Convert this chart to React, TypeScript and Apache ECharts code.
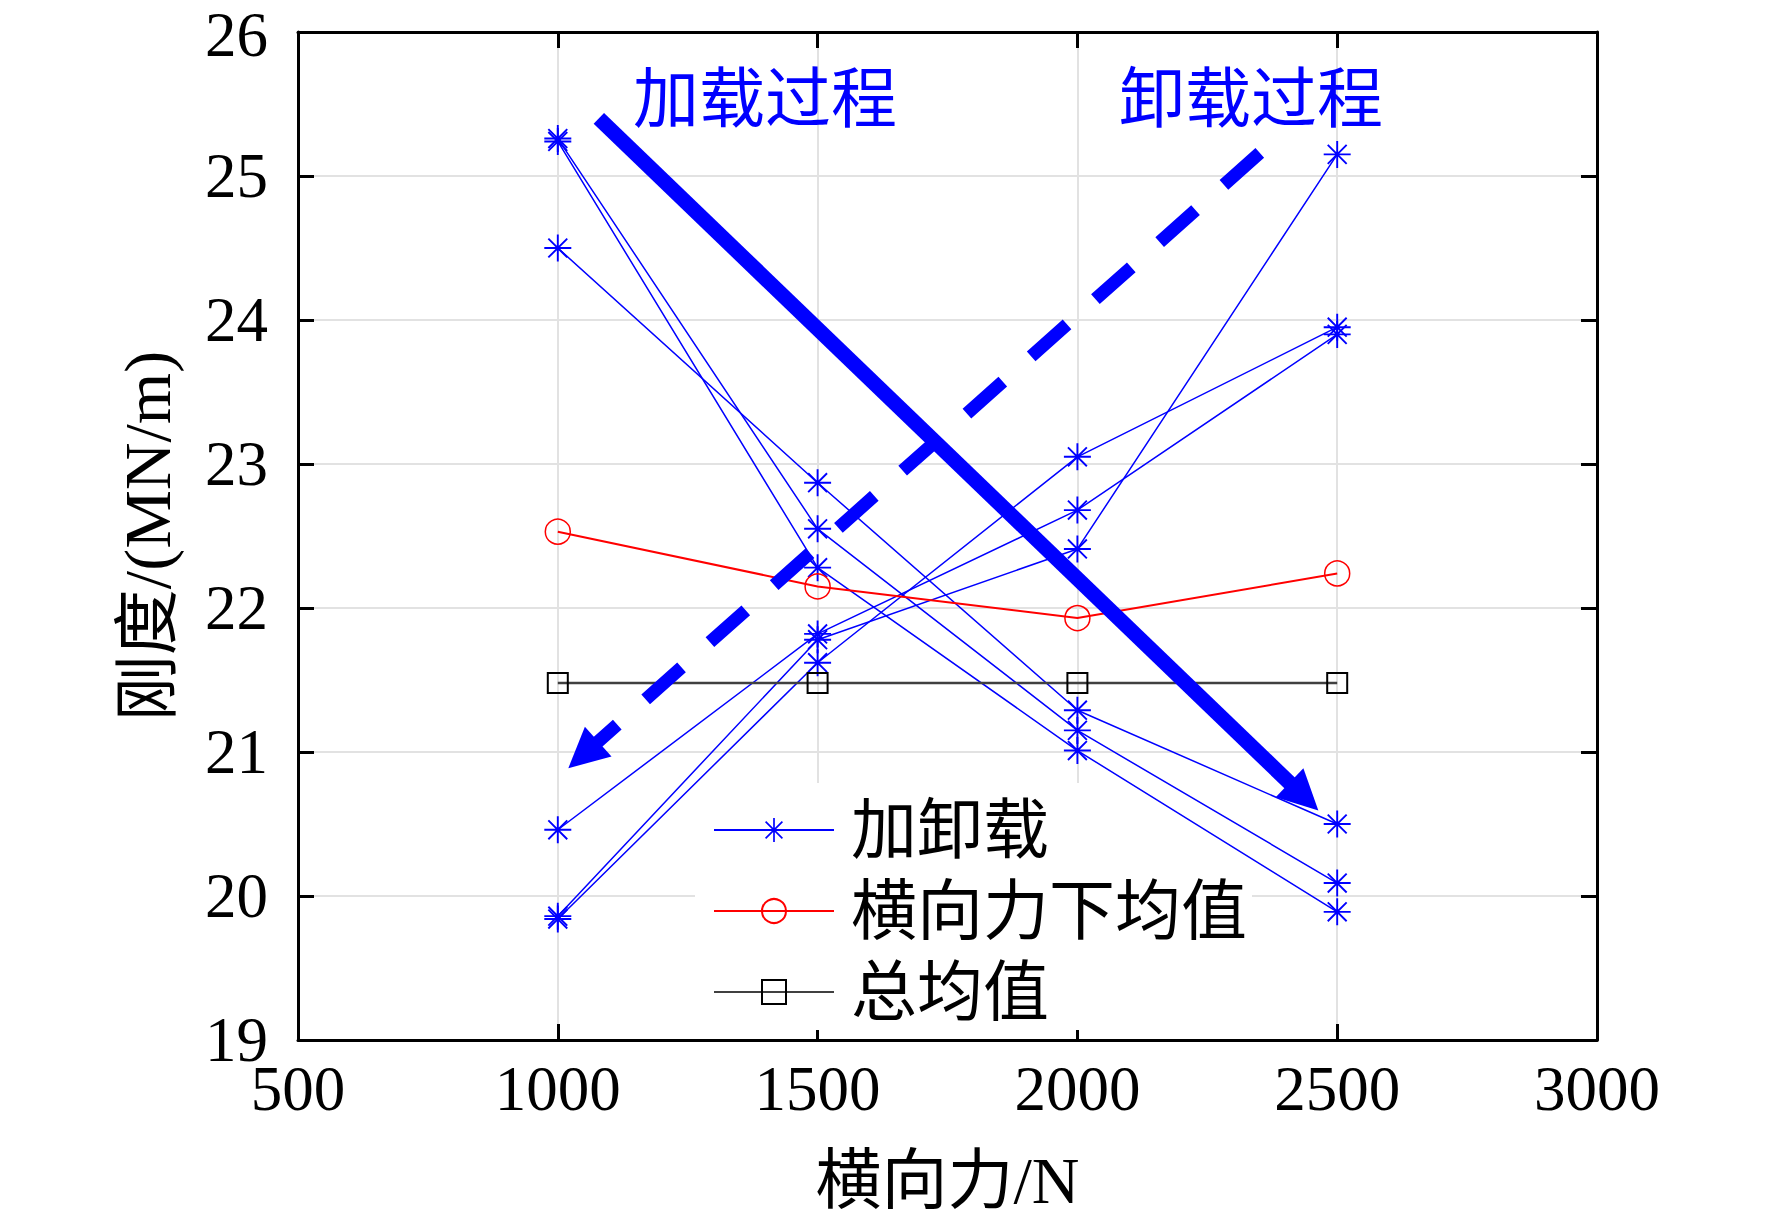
import React, { useEffect, useRef } from "react";
import * as echarts from "echarts";

// ---- data ----
const forceLevels = [1000, 1500, 2000, 2500];
const loading1 = [25.26, 22.55, 21.15, 20.09];
const loading2 = [25.24, 22.28, 21.01, 19.89];
const loading3 = [24.5, 22.87, 21.29, 20.5];
const unloading1 = [19.84, 21.62, 23.05, 23.95];
const unloading2 = [20.46, 21.82, 22.68, 23.9];
const unloading3 = [19.86, 21.78, 22.41, 25.15];
const meanByForce = [22.53, 22.15, 21.93, 22.24];
const overallMean = [21.48, 21.48, 21.48, 21.48];
const xTicks = { min: 500, max: 3000, interval: 500 };
const yTicks = { min: 19, max: 26, interval: 1 };
const legendNames = ["加卸载", "横向力下均值", "总均值"];
const loadArrow = [[1079, 25.4], [2436, 20.69]];
const unloadArrow = [[2351, 25.16], [1049, 20.98]];
const annotations = ["加载过程", "卸载过程"];

const SERIF = "'Liberation Serif', 'Times New Roman', 'Noto Sans CJK SC'";
const BLUE = "#0000ff";

const STAR =
  "path://M0 46.5L100 46.5L100 53.5L0 53.5Z" +
  "M46.5 0L53.5 0L53.5 100L46.5 100Z" +
  "M12.53 17.47L17.47 12.53L87.47 82.53L82.53 87.47Z" +
  "M82.53 12.53L87.47 17.47L17.47 87.47L12.53 82.53Z";

const toPairs = (vals: number[]) => forceLevels.map((x, i) => [x, vals[i]]);

export default function App() {
  const ref = useRef<HTMLDivElement>(null);
  useEffect(() => {
    document.body.style.margin = "0";
    if (!ref.current) return;
    const chart = echarts.init(ref.current, undefined, { renderer: "svg" });

    const axisLine = { show: true, onZero: false, lineStyle: { color: "#000", width: 3 } };
    const axisTick = { show: true, inside: true, length: 16, lineStyle: { color: "#000", width: 3 } };
    const labelStyle = {
      color: "#000",
      fontSize: 63,
      lineHeight: 58,
      fontFamily: SERIF,
    };
    const nameStyle = { color: "#000", fontSize: 66, lineHeight: 66, fontFamily: SERIF };
    const split = { show: true, lineStyle: { color: "#e2e2e2", width: 2 } };

    const blueSeries = [loading1, loading2, loading3, unloading1, unloading2, unloading3].map((v) => ({
      type: "line",
      name: legendNames[0],
      data: toPairs(v),
      symbol: STAR,
      symbolSize: 27,
      itemStyle: { color: BLUE },
      lineStyle: { color: BLUE, width: 1.5 },
      z: 3,
    }));

    chart.setOption({
      animation: false,
      backgroundColor: "#fff",
      grid: { left: 298, top: 32, right: 175, bottom: 182, containLabel: false, outerBoundsMode: "none" },
      xAxis: [
        {
          type: "value",
          ...xTicks,
          position: "bottom",
          axisLine,
          axisTick,
          axisLabel: { ...labelStyle, margin: 20, formatter: (v: number) => String(v) },
          splitLine: split,
          name: "横向力/N",
          nameLocation: "middle",
          nameGap: 107,
          nameTextStyle: nameStyle,
        },
        {
          type: "value",
          ...xTicks,
          position: "top",
          axisLine,
          axisTick,
          axisLabel: { show: false },
          splitLine: { show: false },
        },
      ],
      yAxis: [
        {
          type: "value",
          ...yTicks,
          position: "left",
          axisLine,
          axisTick,
          axisLabel: {
            ...labelStyle,
            margin: 30,
            formatter: (v: number) => (v === yTicks.max ? "{t|" + v + "}" : String(v)),
            rich: {
              t: { color: "#000", fontSize: 63, lineHeight: 58, fontFamily: SERIF, padding: [6, 0, 0, 0] },
            },
          },
          splitLine: split,
          name: "刚度/(MN/m)",
          nameLocation: "middle",
          nameRotate: 90,
          nameGap: 118,
          nameTextStyle: nameStyle,
        },
        {
          type: "value",
          ...yTicks,
          position: "right",
          axisLine,
          axisTick,
          axisLabel: { show: false },
          splitLine: { show: false },
        },
      ],
      legend: {
        data: legendNames,
        orient: "vertical",
        left: 695,
        top: 783,
        padding: [14, 8, 6, 18],
        itemWidth: 120,
        itemHeight: 30,
        itemGap: 15,
        textStyle: { color: "#000", fontSize: 66, lineHeight: 66, fontFamily: SERIF, padding: [0, 0, 0, 12] },
      },
      graphic: [
        {
          // white legend box: hides the grid lines but stays below the data lines
          type: "rect",
          z: 1,
          silent: true,
          shape: { x: 695, y: 783, width: 557, height: 247 },
          style: { fill: "#fff" },
        },
        {
          type: "text",
          x: 633,
          y: 99,
          z: 10,
          style: {
            text: annotations[0],
            fontSize: 66,
            fontFamily: SERIF,
            fill: BLUE,
            verticalAlign: "middle",
            textVerticalAlign: "middle",
          },
        },
        {
          type: "text",
          x: 1119,
          y: 99,
          z: 10,
          style: {
            text: annotations[1],
            fontSize: 66,
            fontFamily: SERIF,
            fill: BLUE,
            verticalAlign: "middle",
            textVerticalAlign: "middle",
          },
        },
      ],
      series: [
        ...blueSeries,
        {
          type: "line",
          name: legendNames[1],
          data: toPairs(meanByForce),
          symbol: "circle",
          symbolSize: 25,
          itemStyle: { color: "rgba(0,0,0,0)", borderColor: "#ff0000", borderWidth: 1.5 },
          lineStyle: { color: "#ff0000", width: 2 },
          z: 4,
        },
        {
          type: "line",
          name: legendNames[2],
          data: toPairs(overallMean),
          symbol: "rect",
          symbolSize: 20,
          itemStyle: { color: "rgba(0,0,0,0)", borderColor: "#000", borderWidth: 2 },
          lineStyle: { color: "#404040", width: 2.5 },
          z: 4,
        },
        {
          type: "line",
          name: "arrows",
          data: [],
          silent: true,
          z: 5,
          markLine: {
            silent: true,
            symbol: ["none", "triangle"],
            symbolSize: 40,
            label: { show: false },
            lineStyle: { color: BLUE },
            data: [
              [
                { coord: loadArrow[0], lineStyle: { color: BLUE, width: 15, type: "solid" }, itemStyle: { color: BLUE } },
                { coord: loadArrow[1] },
              ],
              [
                { coord: unloadArrow[0], lineStyle: { color: BLUE, width: 13, type: [48, 38] }, itemStyle: { color: BLUE } },
                { coord: unloadArrow[1] },
              ],
            ],
          },
        },
      ],
    });
    return () => chart.dispose();
  }, []);
  return <div ref={ref} style={{ width: 1772, height: 1222 }} />;
}
